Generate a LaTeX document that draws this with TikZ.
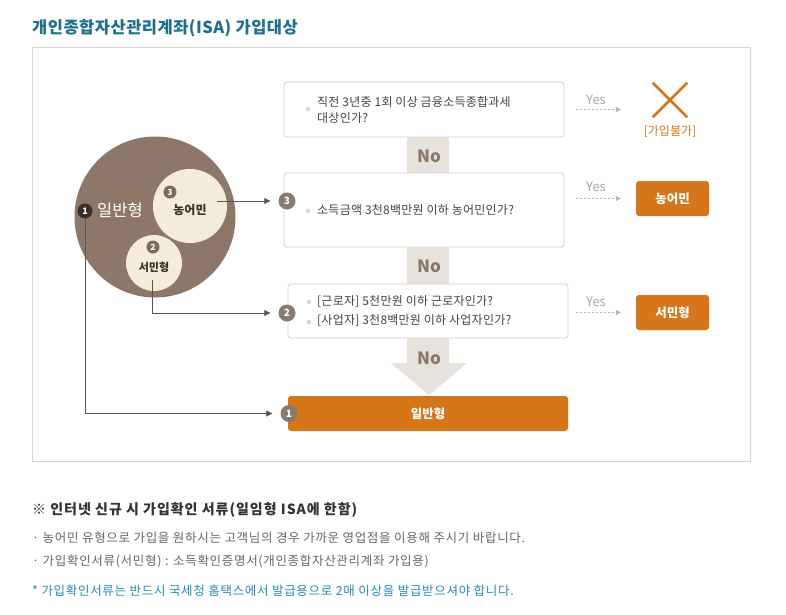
\documentclass[tikz,border=0pt]{standalone}
\usepackage{fontspec}
\setmainfont{Noto Sans CJK KR}
\usetikzlibrary{arrows.meta,calc}
\definecolor{brownc}{HTML}{8C7768}
\definecolor{cream}{HTML}{F5EDDA}
\definecolor{darkbadge}{HTML}{3B2F29}
\definecolor{midbadge}{HTML}{7C6A5D}
\definecolor{boxbadge}{HTML}{8A7A6D}
\definecolor{bandc}{HTML}{E7E2DC}
\definecolor{orangec}{HTML}{D5761B}
\definecolor{boxborder}{HTML}{D3D0CC}
\definecolor{bulletc}{HTML}{DDD5CA}
\definecolor{txtc}{HTML}{444444}
\definecolor{yesgray}{HTML}{A8A8A8}
\definecolor{dashc}{HTML}{B5B5B5}
\definecolor{connc}{HTML}{555555}
\definecolor{tealc}{HTML}{1E6E8C}
\definecolor{teal2}{HTML}{2A8CB0}
\definecolor{framec}{HTML}{D6D6D6}
\definecolor{graytxt}{HTML}{666666}
\definecolor{headc}{HTML}{333333}
\definecolor{circtxt}{HTML}{3A2F28}
\begin{document}
\begin{tikzpicture}[x=1pt,y=-1pt,
  qbox/.style={draw=boxborder, fill=white, rounded corners=3pt, line width=0.8pt, inner sep=0},
  obox/.style={fill=orangec, rounded corners=3pt, text=white, font=\bfseries\fontsize{12.5}{14}\selectfont, inner sep=0},
  badge/.style={circle, fill=boxbadge, text=white, inner sep=0, minimum size=17pt, font=\bfseries\fontsize{10}{10}\selectfont},
  bul/.style={circle, fill=bulletc, inner sep=0, minimum size=4.5pt},
  qtxt/.style={anchor=west, inner sep=0, text=txtc, font=\fontsize{12}{13}\selectfont\addfontfeatures{LetterSpace=2}},
  conn/.style={draw=connc, line width=0.8pt, -{Triangle[length=6pt,width=6pt]}, shorten >=8pt},
  yesarr/.style={draw=dashc, dash pattern=on 2pt off 2pt, line width=0.7pt, -{Triangle[length=5pt,width=5pt]}},
  yeslbl/.style={inner sep=0, text=yesgray, font=\fontsize{13}{13}\selectfont},
  nolbl/.style={inner sep=0, text=brownc, font=\bfseries\fontsize{17}{17}\selectfont},
  btxt/.style={anchor=west, inner sep=0, text=graytxt, font=\fontsize{12.5}{14}\selectfont\addfontfeatures{LetterSpace=5.5}},
]
\useasboundingbox (0,0) rectangle (786,614);
\fill[white] (0,0) rectangle (786,614);

% title
\node[anchor=west, inner sep=0, text=tealc, font=\bfseries\fontsize{16.5}{18}\selectfont\addfontfeatures{LetterSpace=3}] (title) at (32,28) {개인종합자산관리계좌(ISA) 가입대상};
\draw[framec, line width=0.8pt] (32,47) rectangle (750,461);

% No bands
\fill[bandc] (407,130) rectangle (449,180);
\fill[bandc] (407,240) rectangle (449,290);
\fill[bandc] (407,330) -- (449,330) -- (449,363) -- (467,363) -- (429,395) -- (391,363) -- (407,363) -- cycle;

% circles
\node[circle, fill=brownc, minimum size=161pt, inner sep=0] (big) at (155,217) {};
\node[circle, fill=cream, minimum size=74pt, inner sep=0] (cnong) at (190,206) {};
\node[circle, fill=cream, minimum size=56pt, inner sep=0] (cseo) at (154,263) {};
\node[inner sep=0, text=white, font=\fontsize{16.5}{16.5}\selectfont] (ilban) at (120,210) {일반형};
\node[badge, fill=darkbadge, minimum size=15pt, font=\bfseries\fontsize{9}{9}\selectfont] (bb1) at (85,211) {1};
\node[badge, fill=midbadge, minimum size=13pt, font=\bfseries\fontsize{8.5}{8.5}\selectfont] (bb3) at (170,192) {3};
\node[inner sep=0, text=circtxt, font=\bfseries\fontsize{12}{12}\selectfont] (nongl) at (190,210) {농어민};
\node[badge, fill=midbadge, minimum size=13pt, font=\bfseries\fontsize{8.5}{8.5}\selectfont] (bb2) at (153,247) {2};
\node[inner sep=0, text=circtxt, font=\bfseries\fontsize{11}{11}\selectfont] (seol) at (154,267) {서민형};

% question boxes
\node[qbox, minimum width=280pt, minimum height=55pt] (q1) at (424,109.5) {};
\node[qbox, minimum width=280pt, minimum height=74pt] (q2) at (424,210) {};
\node[qbox, minimum width=280pt, minimum height=54pt] (q3) at (428,311) {};
\node[obox, minimum width=280pt, minimum height=35pt] (r1) at (428,413.5) {일반형};
\node[obox, minimum width=73pt, minimum height=35pt] (rn) at (672.5,198.5) {농어민};
\node[obox, minimum width=73pt, minimum height=35pt] (rs) at (672.5,312.5) {서민형};

\node[bul] (q1b) at (308,109) {};
\node[qtxt] (q1t1) at (317,102) {직전 3년중 1회 이상 금융소득종합과세};
\node[qtxt] (q1t2) at (317,118) {대상인가?};
\node[bul] (q2b) at (308,211) {};
\node[qtxt] (q2t) at (317,210) {소득금액 3천8백만원 이하 농어민인가?};
\node[bul] (q3b1) at (309,302) {};
\node[bul] (q3b2) at (309,322) {};
\node[qtxt] (q3t1) at (317,302) {[근로자] 5천만원 이하 근로자인가?};
\node[qtxt] (q3t2) at (317,321) {[사업자] 3천8백만원 이하 사업자인가?};

\node[nolbl] (no1) at (429,156) {No};
\node[nolbl] (no2) at (429,266) {No};
\node[nolbl] (no3) at (429,358) {No};

% badges on boxes
\node[badge] (b3) at (287,201) {3};
\node[badge] (b2) at (287,313) {2};
\node[badge] (b1) at (289,413.5) {1};

% connectors
\coordinate (c3) at (217,201);
\coordinate (c2) at (152,280);
\draw[conn] (c3) -- (b3);
\draw[conn] (c2) |- (b2);
\draw[conn] (bb1.south) |- (b1);

% X mark
\node[minimum size=34pt, inner sep=0] (xm) at (670,100) {};
\draw[orangec, line width=2.5pt] (xm.north west) -- (xm.south east) (xm.north east) -- (xm.south west);
\node[inner sep=0, text=orangec, font=\fontsize{12}{12}\selectfont] (nok) at (670,132) {[가입불가]};

% yes arrows
\draw[yesarr, shorten <=12pt, shorten >=32pt] (q1.east) -- (q1.east -| xm.west);
\draw[yesarr, shorten <=12pt, shorten >=15pt] (rn.west -| q2.east) -- (rn.west);
\draw[yesarr, shorten <=8pt, shorten >=15pt] (rs.west -| q3.east) -- (rs.west);
\node[yeslbl] (y1) at (596,100) {Yes};
\node[yeslbl] (y2) at (596,187) {Yes};
\node[yeslbl] (y3) at (596,302) {Yes};

% bottom notes
\node[anchor=west, inner sep=0, text=headc, font=\bfseries\fontsize{14}{15}\selectfont\addfontfeatures{LetterSpace=7}] (head) at (32,510) {※ 인터넷 신규 시 가입확인 서류(일임형 ISA에 한함)};
\node[btxt] (n1) at (32,538) {· 농어민 유형으로 가입을 원하시는 고객님의 경우 가까운 영업점을 이용해 주시기 바랍니다.};
\node[btxt] (n2) at (32,561) {· 가입확인서류(서민형) : 소득확인증명서(개인종합자산관리계좌 가입용)};
\node[btxt, text=teal2] (n3) at (32,591) {* 가입확인서류는 반드시 국세청 홈택스에서 발급용으로 2매 이상을 발급받으셔야 합니다.};
\end{tikzpicture}
\end{document}
